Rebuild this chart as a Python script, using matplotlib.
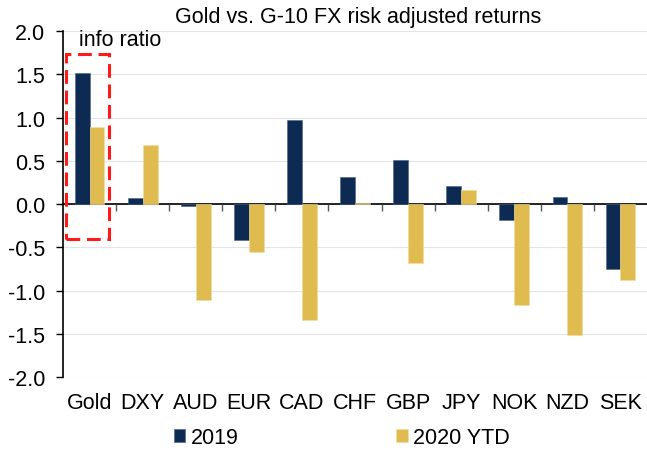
import numpy as np
import matplotlib
matplotlib.use('Agg')
import matplotlib.pyplot as plt
from matplotlib.patches import Rectangle

plt.rcParams['font.family'] = ['Liberation Sans', 'DejaVu Sans']

categories = ['Gold', 'DXY', 'AUD', 'EUR', 'CAD', 'CHF', 'GBP', 'JPY', 'NOK', 'NZD', 'SEK']
ret_2019 = [1.52, 0.07, -0.02, -0.42, 0.97, 0.31, 0.505, 0.205, -0.18, 0.08, -0.75]
ret_2020 = [0.89, 0.68, -1.11, -0.55, -1.34, 0.01, -0.68, 0.16, -1.17, -1.51, -0.88]
series_names = ['2019', '2020 YTD']
yticks = np.arange(-2.0, 2.01, 0.5)

navy = '#0c2a52'
gold = '#e0bb4f'
fs = 15.5

fig = plt.figure(figsize=(6.47, 4.52), dpi=100)
ax = fig.add_axes([0.0974, 0.1637, 0.9026, 0.7653])

x = np.arange(len(categories))
w = 0.28
ax.bar(x - w / 2, ret_2019, w, color=navy, edgecolor='#4a6285', lw=0.4,
       label=series_names[0], zorder=3)
ax.bar(x + w / 2, ret_2020, w, color=gold, edgecolor='#f0dc9c', lw=0.4,
       label=series_names[1], zorder=3)

ax.set_xlim(-0.5, len(categories) - 0.5)
ax.set_ylim(-2.0, 2.0)
ax.set_yticks(yticks)
ax.set_yticklabels([f'{v:.1f}' for v in yticks], fontsize=fs)
ax.yaxis.grid(True, color='#e4e4e4', lw=0.8, ls='-', zorder=0)
ax.tick_params(axis='y', length=5, width=1, direction='out', pad=8)

# x axis line sits at zero, ticks mark category boundaries
ax.spines['bottom'].set_position(('data', 0))
ax.spines['bottom'].set_linewidth(1.2)
ax.spines['left'].set_linewidth(1.2)
ax.spines['top'].set_visible(False)
ax.spines['right'].set_visible(False)
ax.set_xticks(np.arange(0.5, len(categories) - 0.5, 1.0))
ax.set_xticklabels([])
ax.tick_params(axis='x', length=5, width=1, direction='out', color='#555555')

# category names along the bottom of the plot area
sec = ax.secondary_xaxis('bottom')
sec.spines['bottom'].set_visible(False)
sec.set_xticks(x)
sec.set_xticklabels(categories, fontsize=fs)
sec.tick_params(length=0, pad=11)

# highlight box around gold
ax.add_patch(Rectangle((-0.45, -0.405), 0.81, 2.145, fill=False,
                       ec='#ff1a1a', lw=2.2, ls=(0, (4.5, 2.2)), zorder=4))
ax.text(-0.2, 1.9, 'info ratio', fontsize=fs, ha='left', va='center')

fig.suptitle('Gold vs. G-10 FX risk adjusted returns', fontsize=fs, x=0.553, y=0.985)

fig.legend(loc='center', bbox_to_anchor=(0.528, 0.029), ncol=2, frameon=False,
           fontsize=fs, handlelength=0.55, handleheight=0.55, handletextpad=0.25,
           columnspacing=7.3, borderpad=0)

fig.savefig('out.png', dpi=100)
